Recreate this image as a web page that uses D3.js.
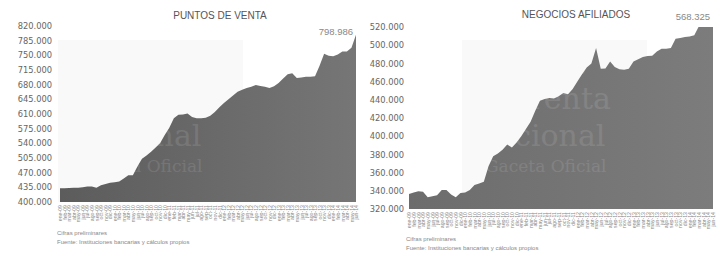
<!DOCTYPE html>
<html>
<head>
<meta charset="utf-8">
<script src="https://cdn.jsdelivr.net/npm/d3@7"></script>
<style>
  body { margin: 0; background: #fff; }
  svg { display: block; }
</style>
</head>
<body>
<div id="chart"></div>
<script>
// month labels, ene-09 .. jun-14
const meses = ['ene', 'feb', 'mar', 'abr', 'may', 'jun', 'jul', 'ago', 'sep', 'oct', 'nov', 'dic'];
const anios = ['09', '10', '11', '12', '13', '14'];
const periodos = [];
anios.forEach((a) => meses.forEach((m) => periodos.push(`${m}-${a}`)));
periodos.length = 66;

const puntosVenta = [
  433000, 433000, 433500, 434000, 434000, 435000, 437000, 437000, 434000, 440000,
  443000, 446000, 447000, 449000, 456000, 464000, 464000, 485000, 503000, 511000,
  520000, 530000, 541000, 560000, 577000, 600000, 608000, 609000, 611000, 603000,
  600000, 600000, 601000, 606000, 615000, 626000, 636000, 645000, 654000, 663000,
  668000, 672000, 675000, 679000, 677000, 675000, 672000, 676000, 684000, 695000,
  705000, 707000, 696000, 697000, 699000, 699000, 700000, 725000, 754000, 749000,
  748000, 752000, 759000, 759000, 768000, 798986
];

const negociosAfiliados = [
  336500, 338000, 339500, 339000, 333000, 334000, 335000, 341000, 341000, 336000,
  333000, 337500, 338000, 341000, 346500, 348000, 350000, 367000, 378000, 381000,
  385000, 391000, 387500, 393000, 400000, 408000, 416000, 428000, 439000, 441000,
  442000, 441500, 444000, 447500, 446000, 452000, 460000, 468000, 475500, 480000,
  497000, 474000, 474500, 482000, 476000, 473500, 473000, 474000, 482000, 484500,
  487000, 488000, 488400, 493000, 496000, 496000, 497000, 507000, 508000, 509000,
  509500, 511000, 521000, 530000, 545000, 568325
];

const ticksPuntos = [400000, 435000, 470000, 505000, 540000, 575000, 610000, 645000,
  680000, 715000, 750000, 785000, 820000];
const ticksNegocios = [320000, 340000, 360000, 380000, 400000, 420000, 440000, 460000,
  480000, 500000, 520000];

const width = 723;
const height = 258;
const fmt = (v) => d3.format(',')(v).replace(/,/g, '.');
const fmtTick = (v) => d3.format(',.0f')(v).replace(/,/g, '.');

const svg = d3
  .select('#chart')
  .append('svg')
  .attr('width', width)
  .attr('height', height);

const defs = svg.append('defs');

function drawPanel(cfg) {
  const g = svg.append('g');

  const x = d3
    .scaleLinear()
    .domain([0, cfg.values.length - 1])
    .range([cfg.left, cfg.right]);
  const y = d3.scaleLinear().domain(cfg.domain).range([cfg.bottom, cfg.top]);

  // faint watermark box behind
  g.append('rect')
    .attr('x', cfg.wmX - 8)
    .attr('y', 40)
    .attr('width', 185)
    .attr('height', cfg.bottom - 40)
    .attr('fill', '#f9f9f9');

  defs
    .append('clipPath')
    .attr('id', cfg.id + '-clip')
    .append('rect')
    .attr('x', cfg.left)
    .attr('y', cfg.top)
    .attr('width', cfg.right - cfg.left)
    .attr('height', cfg.bottom - cfg.top);

  const grad = defs
    .append('linearGradient')
    .attr('id', cfg.id + '-grad')
    .attr('x1', '0%')
    .attr('x2', '100%')
    .attr('y1', '0%')
    .attr('y2', '0%');
  grad.append('stop').attr('offset', '0%').attr('stop-color', cfg.colors[0]);
  grad.append('stop').attr('offset', '100%').attr('stop-color', cfg.colors[1]);

  const area = d3
    .area()
    .x((d, i) => x(i))
    .y0(cfg.bottom)
    .y1((d) => y(d));

  g.append('path')
    .datum(cfg.values)
    .attr('clip-path', `url(#${cfg.id}-clip)`)
    .attr('fill', `url(#${cfg.id}-grad)`)
    .attr('d', area);

  // watermark text over the area
  const wm = g
    .append('g')
    .attr('font-family', 'DejaVu Serif, Liberation Serif, serif')
    .attr('fill', '#fff')
    .attr('opacity', 0.1);
  wm.append('text').attr('x', cfg.wmX).attr('y', 74).attr('font-size', 12).text('Servicio Autónomo');
  wm.append('text').attr('x', cfg.wmX).attr('y', 109).attr('font-size', 30).text('Imprenta');
  wm.append('text').attr('x', cfg.wmX).attr('y', 146).attr('font-size', 30).text('Nacional');
  wm.append('text').attr('x', cfg.wmX).attr('y', 172).attr('font-size', 17).text('y Gaceta Oficial');

  // y axis
  const yAxis = d3
    .axisLeft(y)
    .tickValues(cfg.ticks)
    .tickSize(0)
    .tickPadding(0)
    .tickFormat(fmtTick);
  g.append('g')
    .attr('transform', `translate(${cfg.labelX},0)`)
    .call(yAxis)
    .call((s) => s.select('.domain').remove())
    .call((s) =>
      s
        .selectAll('text')
        .attr('font-family', 'DejaVu Sans, sans-serif')
        .attr('font-size', 8.3)
        .attr('fill', '#666')
    );

  // x axis, rotated month labels
  const xAxis = d3
    .axisBottom(x)
    .tickValues(d3.range(cfg.values.length))
    .tickSize(0)
    .tickPadding(0)
    .tickFormat((i) => periodos[i]);
  g.append('g')
    .attr('transform', `translate(0,${cfg.bottom + 3})`)
    .call(xAxis)
    .call((s) => s.select('.domain').remove())
    .call((s) =>
      s
        .selectAll('text')
        .attr('font-family', 'Liberation Sans, Arial, sans-serif')
        .attr('font-size', 5.2)
        .attr('fill', '#888')
        .attr('text-anchor', 'end')
        .attr('dy', '0.32em')
        .attr('transform', 'rotate(-90)')
    );

  g.append('text')
    .attr('x', cfg.titleX)
    .attr('y', cfg.titleY)
    .attr('text-anchor', 'middle')
    .attr('font-family', 'Liberation Sans, Arial, sans-serif')
    .attr('font-size', 10)
    .attr('fill', '#555')
    .text(cfg.title);

  g.append('text')
    .attr('x', cfg.right - 3)
    .attr('y', cfg.lastY)
    .attr('text-anchor', 'end')
    .attr('font-family', 'Liberation Sans, Arial, sans-serif')
    .attr('font-size', 9.5)
    .attr('fill', '#888')
    .text(fmt(cfg.values[cfg.values.length - 1]));

  const foot = g
    .append('g')
    .attr('font-family', 'Liberation Sans, Arial, sans-serif')
    .attr('font-size', 6)
    .attr('fill', '#888');
  foot.append('text').attr('x', cfg.left - 3).attr('y', cfg.footY).text('Cifras preliminares');
  foot
    .append('text')
    .attr('x', cfg.left - 3)
    .attr('y', cfg.footY + 8.5)
    .text('Fuente: Instituciones bancarias y cálculos propios');
}

drawPanel({
  id: 'pv',
  title: 'PUNTOS DE VENTA',
  values: puntosVenta,
  ticks: ticksPuntos,
  domain: [400000, 820000],
  left: 60,
  right: 356,
  top: 26,
  bottom: 202,
  labelX: 52,
  titleX: 220,
  titleY: 18.5,
  lastY: 35,
  footY: 235,
  wmX: 66,
  colors: ['#5c5c5c', '#767676'],
});

drawPanel({
  id: 'na',
  title: 'NEGOCIOS AFILIADOS',
  values: negociosAfiliados,
  ticks: ticksNegocios,
  domain: [320000, 520000],
  left: 409,
  right: 713,
  top: 27,
  bottom: 209,
  labelX: 404,
  titleX: 576,
  titleY: 17.5,
  lastY: 20,
  footY: 241,
  wmX: 470,
  colors: ['#6c6c6c', '#7c7c7c'],
});
</script>
</body>
</html>
